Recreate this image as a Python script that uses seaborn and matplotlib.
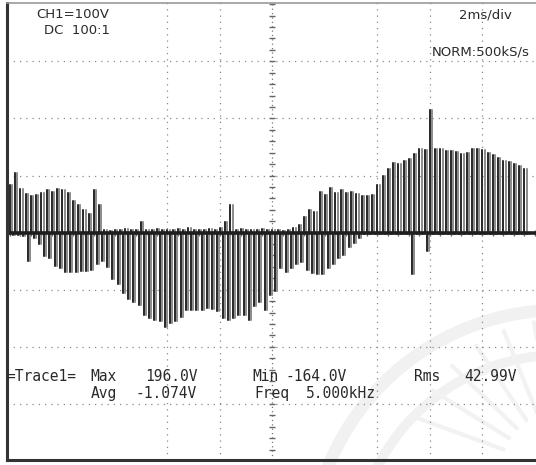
import numpy as np
import pandas as pd
import matplotlib
matplotlib.use("Agg")
from matplotlib import pyplot as plt
from matplotlib.patches import Arc
import seaborn as sns

# pulse heights (volts), one per 0.2 ms PWM period
pos_volts = [83, 105, 77, 68, 65, 66, 70, 74, 72, 77, 74, 70, 55, 48, 40, 32, 74, 48,
             4, 3, 5, 4, 6, 4, 5, 19, 5, 4, 6, 4, 5, 4, 6, 5, 8, 4, 5, 4, 6, 4,
             8, 19, 48, 5, 6, 4, 5, 4, 6, 4, 5, 4, 3, 5, 8,
             14, 28, 40, 36, 71, 66, 79, 70, 74, 70, 72, 68, 65, 65, 66, 83, 100, 112,
             122, 120, 126, 129, 138, 147, 145, 215, 147, 147, 143, 143, 142, 138, 140,
             147, 147, 145, 140, 136, 130, 126, 124, 120, 116, 112, 110]
neg_volts = [-5, -4, -6, -50, -10, -20, -41, -45, -58, -62, -69, -69, -69, -67, -67, -65,
             -55, -50, -60, -81, -90, -105, -117, -122, -126, -145, -150, -153, -155,
             -165, -158, -155, -147, -136, -135, -136, -135, -132, -133, -138, -150,
             -153, -150, -145, -145, -153, -128, -121, -136, -110, -103, -62, -69, -62,
             -55, -52, -65, -70, -72, -72, -62, -55, -45, -40, -26, -18, -10,
             -3, -3, -3, -3, -3, -3, -3, -3, -3, -72, -3, -3, -33, -3, -3, -3, -3, -3,
             -3, -3, -3, -3, -3, -3, -3, -3, -3, -3, -3, -3, -3, -3]
period_ms = 0.2
pulse_ms = 0.08

# screen grid (ms / V) - only the lines that survived the scan
grid_ms = [6, 8, 14, 16, 18]
grid_volts = [-300, -200, -100, 100, 200, 300]

header_left = ["CH1=100V", "DC  100:1"]
header_right = ["2ms/div", "NORM:500kS/s"]

# trace: every pulse leaves a dark rising edge and a fainter falling edge
rows = []
for i, (vp, vn) in enumerate(zip(pos_volts, neg_volts)):
    t = i * period_ms
    tn = t + period_ms / 2
    for edge, dt in [("rise", 0.0), ("fall", pulse_ms)]:
        rows += [(edge, t + dt, 0), (edge, t + dt, vp), (edge, t + dt, 0),
                 (edge, tn + dt, 0), (edge, tn + dt, vn), (edge, tn + dt, 0)]
trace = pd.DataFrame(rows, columns=["edge", "t", "v"])

sns.set_theme(style="white")
plt.rcParams["font.family"] = ["DejaVu Sans Mono", "DejaVu Sans"]

fig = plt.figure(figsize=(5.36, 4.65), dpi=100)
fig.patch.set_facecolor("white")

# faint watermark behind the screen
wm = fig.add_axes([0, 0, 1, 1])
wm.set_xlim(0, 536)
wm.set_ylim(465, 0)
wm.axis("off")
for r, w in [(250, 9), (205, 7)]:
    wm.add_patch(Arc((560, 560), 2 * r, 2 * r, theta1=180, theta2=275,
                     color="#f1f1f1", lw=w))
for ang in [200, 212, 224, 236, 248, 260]:
    a = np.deg2rad(ang)
    wm.plot([560 + 60 * np.cos(a), 560 + 150 * np.cos(a)],
            [470 - 60 * np.sin(-a), 470 - 150 * np.sin(-a)], color="#f2f2f2", lw=3)

ax = fig.add_axes([7 / 536, 5 / 465, 529 / 536, 457 / 465])
ax.patch.set_alpha(0)
ax.set_xlim(-0.114, 20.04)
ax.set_ylim(-398, 402)

dot = (0, (1, 4))
for g in grid_ms:
    ax.axvline(g, color="#8a8a8a", lw=0.9, ls=dot)
for g in grid_volts:
    ax.axhline(g, color="#8a8a8a", lw=0.9, ls=dot)

# centre graticule with minor ticks
ax.axvline(10, color="#777777", lw=0.9, ls=(0, (1, 2.5)))
ax.plot(np.full(41, 10.0), np.arange(-400, 401, 20), ls="none", marker="_",
        ms=4, mew=1, color="#666666")
ax.plot(np.arange(0, 20.01, 0.4), np.zeros(51), ls="none", marker="|",
        ms=4, mew=1, color="#666666")

sns.lineplot(data=trace, x="t", y="v", hue="edge", sort=False, estimator=None,
             palette={"rise": "#2c2c2c", "fall": "#8e8e8e"}, lw=1.1,
             legend=False, ax=ax)
ax.axhline(0, xmin=0, xmax=1, color="#1e1e1e", lw=2.6)

ax.set_xticks([])
ax.set_yticks([])
ax.set_xlabel("")
ax.set_ylabel("")
for side, lw, col in [("left", 2.2, "#333333"), ("bottom", 2.2, "#333333"),
                      ("top", 1.2, "#999999")]:
    ax.spines[side].set_linewidth(lw)
    ax.spines[side].set_color(col)
ax.spines["right"].set_visible(False)


def px_text(x, y, s, size=9.5):
    fig.text(x / 536, 1 - y / 465, s, ha="left", va="center", fontsize=size,
             color="#2a2a2a", family=["DejaVu Sans", "DejaVu Sans Mono"])


px_text(36, 15, header_left[0])
px_text(44, 31, header_left[1])
px_text(459, 15, header_right[0])
px_text(432, 52, header_right[1])

# measurement readout
mono = 10.5
for x, y, s in [(6, 376, "=Trace1="), (90, 376, "Max"), (145, 376, "196.0V"),
                (252, 376, "Min"), (285, 376, "-164.0V"), (414, 376, "Rms"),
                (464, 376, "42.99V"), (91, 393, "Avg"), (136, 393, "-1.074V"),
                (254, 393, "Freq"), (306, 393, "5.000kHz")]:
    fig.text(x / 536, 1 - y / 465, s, ha="left", va="center", fontsize=mono,
             color="#2a2a2a")

fig.savefig("out.png", dpi=100)
